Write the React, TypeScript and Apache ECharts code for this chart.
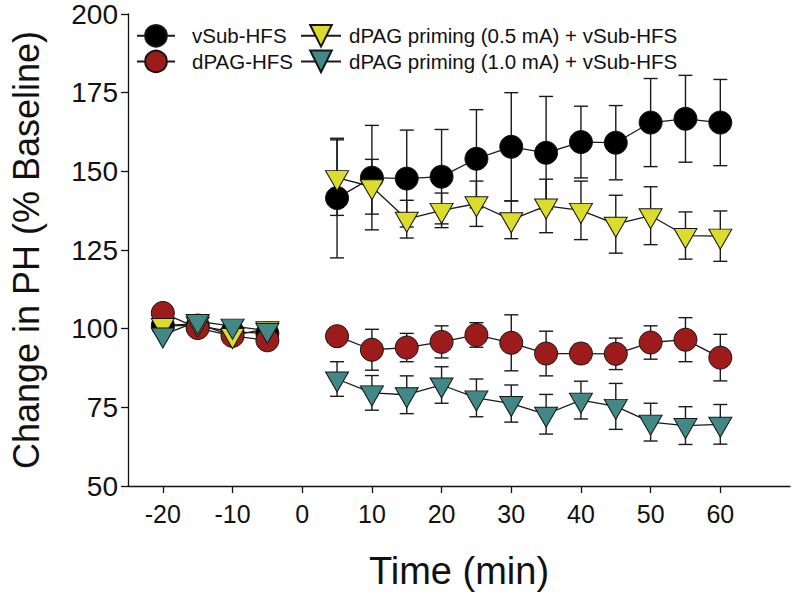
import React, { useEffect, useRef } from "react";
import * as echarts from "echarts";

const timeBase = [-20, -15, -10, -5];
const timePost = [5, 10, 15, 20, 25, 30, 35, 40, 45, 50, 55, 60];
const xTicks = [-20, -10, 0, 10, 20, 30, 40, 50, 60];

const vSubBase = [101, 101, 99, 98.5];
const vSubPost = [141.5, 148, 147.7, 148.3, 154, 157.8, 155.9, 159.3, 159.1, 165.5, 166.7, 165.5];
const vSubErr = [19, 16.6, 15.4, 15, 15.6, 17.2, 17.9, 11.4, 11.8, 14, 13.8, 13.7];

const dpagBase = [105, 100.2, 97.7, 96.3];
const dpagPost = [97.6, 93.3, 94, 95.8, 98, 95.5, 92.1, 92.1, 92, 95.6, 96.5, 90.8];
const dpagErr = [2, 6.5, 4.5, 5.1, 3.9, 8.9, 7.1, 3, 5, 5.3, 7, 7.4];

const p05Base = [101, 101.5, 97.8, 100];
const p05Post = [148, 145.1, 134.8, 137.6, 139.7, 134.6, 139, 137.6, 133.2, 135.9, 129.6, 129.4];
const p05Err = [12, 8.7, 6, 5.5, 7.2, 6, 8.5, 9.3, 9.2, 9.2, 7.5, 8];

const p10Base = [98, 102.3, 100.8, 99.4];
const p10Post = [84, 79.6, 79, 82.1, 78, 76.2, 72.8, 77.3, 75.3, 70.3, 69.2, 69.6];
const p10Err = [5.5, 5.5, 6, 5.8, 6, 5.9, 6.3, 6, 7.3, 6, 6, 6.3];

const names = [
  "vSub-HFS",
  "dPAG-HFS",
  "dPAG priming (0.5 mA) + vSub-HFS",
  "dPAG priming (1.0 mA) + vSub-HFS",
];

const TRI = "path://M0 0L23 0L11.5 20Z";

function lineData(base: number[], post: number[]) {
  const d: any[] = [];
  timeBase.forEach((t, i) => d.push([t, base[i]]));
  d.push([0, "-"]);
  timePost.forEach((t, i) => d.push([t, post[i]]));
  return d;
}

function errData(post: number[], err: number[]) {
  return timePost.map((t, i) => [t, post[i], err[i]]);
}

const renderErr = (params: any, api: any) => {
  const x = api.value(0);
  const y = api.value(1);
  const e = api.value(2);
  if (!e) return null;
  const top = api.coord([x, y + e]);
  const bot = api.coord([x, y - e]);
  const hw = 7;
  const style = { stroke: "#1a1a1a", lineWidth: 1.4 };
  return {
    type: "group",
    children: [
      { type: "line", shape: { x1: top[0], y1: top[1], x2: bot[0], y2: bot[1] }, style },
      { type: "line", shape: { x1: top[0] - hw, y1: top[1], x2: top[0] + hw, y2: top[1] }, style },
      { type: "line", shape: { x1: bot[0] - hw, y1: bot[1], x2: bot[0] + hw, y2: bot[1] }, style },
    ],
  };
};

export default function App() {
  const ref = useRef<HTMLDivElement>(null);
  useEffect(() => {
    if (!ref.current) return;
    const chart = echarts.init(ref.current, null, { renderer: "svg" });
    const groups = [
      { name: names[0], base: vSubBase, post: vSubPost, err: vSubErr, color: "#000000", symbol: "circle", size: 23 },
      { name: names[1], base: dpagBase, post: dpagPost, err: dpagErr, color: "#9e1b1b", symbol: "circle", size: 23 },
      { name: names[2], base: p05Base, post: p05Post, err: p05Err, color: "#dcdc2c", symbol: TRI, size: [23, 20] },
      { name: names[3], base: p10Base, post: p10Post, err: p10Err, color: "#418886", symbol: TRI, size: [23, 20] },
    ];
    const series: any[] = [];
    groups.forEach((g) => {
      series.push({
        type: "custom",
        name: g.name + " err",
        renderItem: renderErr,
        data: errData(g.post, g.err),
        z: 1,
        silent: true,
        encode: { x: 0, y: 1 },
      });
    });
    groups.forEach((g) => {
      series.push({
        type: "line",
        name: g.name,
        data: lineData(g.base, g.post),
        symbol: g.symbol,
        symbolSize: g.size,
        symbolOffset: g.symbol === TRI ? [0, 3] : [0, 0],
        showAllSymbol: true,
        connectNulls: false,
        z: 2,
        lineStyle: { color: "#1a1a1a", width: 1.3 },
        itemStyle: { color: g.color, borderColor: "#151515", borderWidth: 1, opacity: 1 },
        emphasis: { disabled: true },
      });
    });
    const legendBase = {
      orient: "vertical",
      top: 19,
      itemHeight: 27,
      itemGap: 2,
      selectedMode: false,
    };
    chart.setOption({
      animation: false,
      backgroundColor: "#ffffff",
      grid: { left: 114, right: 7, top: 14, bottom: 107, containLabel: false },
      legend: [
        {
          ...legendBase,
          data: [names[0], names[1]],
          left: 131,
          itemWidth: 38,
          textStyle: { fontSize: 20.5, fontFamily: "Liberation Sans", color: "#111", padding: [0, 0, 0, 12] },
        },
        {
          ...legendBase,
          data: [names[2], names[3]],
          left: 295,
          itemWidth: 40,
          textStyle: { fontSize: 20.5, fontFamily: "Liberation Sans", color: "#111", padding: [0, 0, 0, 3] },
        },
      ],
      xAxis: {
        type: "value",
        min: -25,
        max: 70,
        name: "Time (min)",
        nameLocation: "middle",
        nameGap: 66,
        nameTextStyle: { fontSize: 38, fontFamily: "Liberation Sans Narrow, Liberation Sans", color: "#111" },
        axisLine: { onZero: false, lineStyle: { color: "#111", width: 1.3 } },
        axisTick: { show: true, length: 7, customValues: xTicks, lineStyle: { color: "#111", width: 1.3 } },
        axisLabel: {
          customValues: xTicks,
          fontSize: 25,
          margin: 15,
          fontFamily: "Liberation Sans Narrow, Liberation Sans",
          color: "#111",
        },
        splitLine: { show: false },
      },
      yAxis: {
        type: "value",
        min: 50,
        max: 200,
        interval: 25,
        name: "Change in PH (% Baseline)",
        nameLocation: "middle",
        nameGap: 84,
        nameTextStyle: { fontSize: 36, fontFamily: "Liberation Sans", color: "#111" },
        axisLine: { show: true, onZero: false, lineStyle: { color: "#111", width: 1.3 } },
        axisTick: { show: true, length: 7, lineStyle: { color: "#111", width: 1.3 } },
        axisLabel: { fontSize: 28, margin: 10, fontFamily: "Liberation Sans", color: "#111" },
        splitLine: { show: false },
      },
      series,
    });
    return () => chart.dispose();
  }, []);
  return (
    <div
      ref={ref}
      style={{ position: "fixed", left: 0, top: 0, width: 797, height: 595, background: "#fff" }}
    />
  );
}
